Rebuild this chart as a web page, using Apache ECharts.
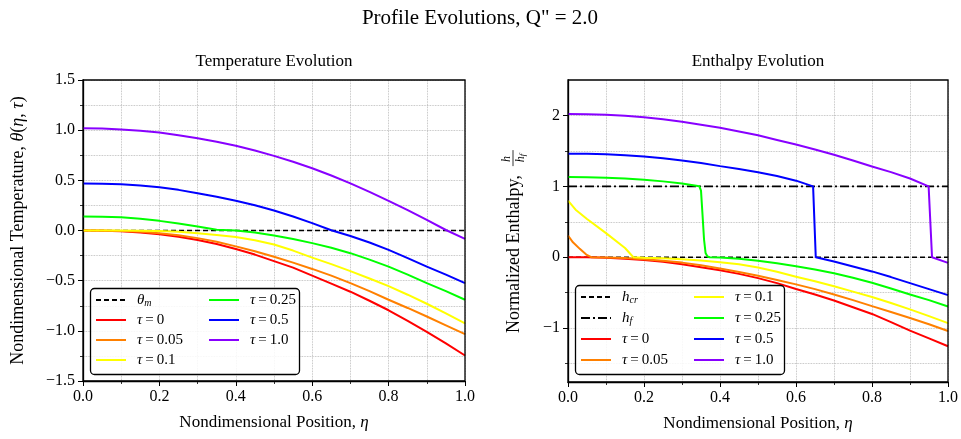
<!DOCTYPE html>
<html>
<head>
<meta charset="utf-8">
<title>Profile Evolutions</title>
<script src="https://cdn.jsdelivr.net/npm/echarts@6/dist/echarts.min.js"></script>
<style>
html, body { margin: 0; padding: 0; background: #fff; }
#main { width: 961px; height: 439px; }
</style>
</head>
<body>
<div id="main"></div>
<script>
// --- data ---

// temperature curves share one eta grid
var eta = [0, 0.05, 0.1, 0.15, 0.2, 0.25, 0.3, 0.35, 0.4, 0.45, 0.5, 0.55, 0.6, 0.65, 0.7, 0.75, 0.8, 0.85, 0.9, 0.95, 1.0];
var thetaTau0   = [0, -0.002, -0.007, -0.02, -0.037, -0.062, -0.095, -0.135, -0.185, -0.24, -0.305, -0.37, -0.45, -0.53, -0.61, -0.70, -0.795, -0.9, -1.01, -1.125, -1.246];
var thetaTau005 = [0, 0, -0.004, -0.012, -0.027, -0.048, -0.076, -0.113, -0.158, -0.207, -0.262, -0.32, -0.383, -0.45, -0.525, -0.605, -0.69, -0.772, -0.857, -0.945, -1.033];
var thetaTau01  = [0, 0, 0, -0.002, -0.006, -0.013, -0.028, -0.045, -0.065, -0.098, -0.14, -0.2, -0.27, -0.335, -0.405, -0.478, -0.555, -0.64, -0.73, -0.825, -0.925];
var thetaTau025 = [0.14, 0.138, 0.133, 0.117, 0.096, 0.07, 0.04, 0.008, 0, -0.02, -0.05, -0.085, -0.126, -0.172, -0.226, -0.29, -0.36, -0.44, -0.525, -0.605, -0.69];
var thetaTau05  = [0.468, 0.466, 0.46, 0.448, 0.432, 0.405, 0.372, 0.336, 0.296, 0.252, 0.2, 0.14, 0.073, 0.002, -0.055, -0.12, -0.193, -0.275, -0.36, -0.44, -0.525];
var thetaTau1   = [1.02, 1.017, 1.007, 0.995, 0.977, 0.95, 0.92, 0.885, 0.844, 0.797, 0.744, 0.685, 0.62, 0.548, 0.47, 0.385, 0.296, 0.203, 0.106, 0.005, -0.083];

// reference lines
var etaRef = [0, 1];
var thetaM = [0, 0];
var hCr = [0, 0];
var hF = [1, 1];

// enthalpy curves (own eta points, to keep the jumps sharp)
var hTau0 = [0, -0.002, -0.007, -0.02, -0.038, -0.065, -0.1, -0.14, -0.185, -0.235, -0.295, -0.365, -0.447, -0.525, -0.61, -0.705, -0.8, -0.915, -1.035, -1.145, -1.256];

var etaH005 = [0, 0.013, 0.031, 0.048, 0.061, 0.1, 0.15, 0.2, 0.25, 0.3, 0.35, 0.4, 0.45, 0.5, 0.55, 0.6, 0.65, 0.7, 0.75, 0.8, 0.85, 0.9, 0.95, 1.0];
var hTau005 = [0.306, 0.21, 0.118, 0.038, 0, -0.004, -0.012, -0.027, -0.048, -0.076, -0.113, -0.158, -0.207, -0.262, -0.32, -0.383, -0.45, -0.525, -0.605, -0.69, -0.772, -0.857, -0.945, -1.04];

var etaH01 = [0, 0.02, 0.05, 0.1, 0.15, 0.172, 0.2, 0.25, 0.3, 0.35, 0.4, 0.45, 0.5, 0.55, 0.6, 0.65, 0.7, 0.75, 0.8, 0.85, 0.9, 0.95, 1.0];
var hTau01 = [0.8, 0.67, 0.54, 0.34, 0.13, 0, -0.006, -0.013, -0.03, -0.047, -0.07, -0.1, -0.145, -0.205, -0.275, -0.34, -0.41, -0.485, -0.56, -0.645, -0.735, -0.83, -0.93];

var etaH025 = [0, 0.05, 0.1, 0.15, 0.2, 0.25, 0.3, 0.3457, 0.35, 0.354, 0.358, 0.362, 0.367, 0.373, 0.4, 0.45, 0.5, 0.55, 0.6, 0.65, 0.7, 0.75, 0.8, 0.85, 0.9, 0.95, 1.0];
var hTau025 = [1.13, 1.128, 1.122, 1.11, 1.093, 1.07, 1.04, 1.0, 0.94, 0.6, 0.25, 0.06, 0.01, 0, -0.004, -0.022, -0.05, -0.085, -0.126, -0.172, -0.226, -0.29, -0.36, -0.44, -0.525, -0.605, -0.695];

var etaH05 = [0, 0.05, 0.1, 0.15, 0.2, 0.25, 0.3, 0.35, 0.4, 0.45, 0.5, 0.55, 0.6, 0.645, 0.652, 0.7, 0.75, 0.8, 0.85, 0.9, 0.95, 1.0];
var hTau05 = [1.46, 1.458, 1.452, 1.44, 1.42, 1.396, 1.365, 1.328, 1.285, 1.245, 1.2, 1.145, 1.08, 1.0, 0, -0.06, -0.13, -0.2, -0.28, -0.365, -0.45, -0.535];

var etaH1 = [0, 0.05, 0.1, 0.15, 0.2, 0.25, 0.3, 0.35, 0.4, 0.45, 0.5, 0.55, 0.6, 0.65, 0.7, 0.75, 0.8, 0.85, 0.9, 0.949, 0.958, 1.0];
var hTau1 = [2.02, 2.017, 2.01, 1.995, 1.975, 1.945, 1.91, 1.87, 1.826, 1.775, 1.72, 1.655, 1.59, 1.52, 1.445, 1.365, 1.28, 1.2, 1.11, 1.0, 0, -0.08];

// tick values of the enthalpy axis
var yTicksEnthMajor = [-1, 0, 1, 2];
var yTicksEnthMinor = [-1.5, -0.5, 0.5, 1.5];

var tauColors = ['#ff0000', '#ff8000', '#ffff00', '#00ff00', '#0000ff', '#8800ff'];
var tauNames = ['τ = 0', 'τ = 0.05', 'τ = 0.1', 'τ = 0.25', 'τ = 0.5', 'τ = 1.0'];

// --- chart ---
var FONT = "'Liberation Serif', 'DejaVu Serif', serif";
var gridLine = { color: '#b0b0b0', type: 'dotted', width: 0.8 };

function pairs(xs, ys) {
    return xs.map(function (x, i) { return [x, ys[i]]; });
}

function num(v) {
    return (v < 0 ? '\u2212' : '') + Math.abs(v).toFixed(1);
}

var richMath = {
    i: { fontFamily: FONT, fontStyle: 'italic', fontSize: 15, lineHeight: 16 },
    s: { fontFamily: FONT, fontStyle: 'italic', fontSize: 10, lineHeight: 16, verticalAlign: 'bottom', padding: [5, 0, 0, 0] }
};

function legendLabel(name) {
    if (name === 'θm') return '{i|θ}{s|m}';
    if (name === 'hcr') return '{i|h}{s|cr}';
    if (name === 'hf') return '{i|h}{s|f}';
    return '{i|τ}\u2009=\u2009' + name.split('= ')[1];
}

function lineSeries(name, xs, ys, color, xi, yi, style) {
    return {
        name: name,
        type: 'line',
        xAxisIndex: xi,
        yAxisIndex: yi,
        data: pairs(xs, ys),
        showSymbol: false,
        symbol: 'none',
        smooth: false,
        animation: false,
        silent: true,
        lineStyle: Object.assign({ color: color, width: 2 }, style || {}),
        itemStyle: { color: color }
    };
}

function xAxisDef(gi) {
    return {
        type: 'value', gridIndex: gi, min: 0, max: 1, interval: 0.2,
        axisLine: { show: true, onZero: false, lineStyle: { color: '#000', width: 1.3 } },
        axisTick: { show: true, length: 5, lineStyle: { color: '#000', width: 1 } },
        minorTick: { show: true, splitNumber: 2, length: 3, lineStyle: { color: '#000', width: 0.8 } },
        splitLine: { show: true, lineStyle: gridLine },
        minorSplitLine: { show: true, lineStyle: gridLine },
        axisLabel: { formatter: num, fontFamily: FONT, fontSize: 16, color: '#000', margin: 8 },
        name: 'Nondimensional Position, {i|η}',
        nameLocation: 'middle', nameGap: 33,
        nameTextStyle: { fontFamily: FONT, fontSize: 17, color: '#000',
            rich: { i: { fontFamily: FONT, fontStyle: 'italic', fontSize: 17 } } }
    };
}

var legendText = { fontFamily: FONT, fontSize: 15, color: '#000', lineHeight: 16, padding: [0, 0, 0, 6], rich: richMath };

function legendDef(names, left, top, gap) {
    return {
        orient: 'vertical', left: left, top: top, padding: 0,
        itemWidth: 30, itemHeight: 10, itemGap: gap,
        selectedMode: false, data: names, z: 6,
        itemStyle: { opacity: 0 },
        textStyle: legendText, formatter: legendLabel
    };
}

var series = [lineSeries('θm', etaRef, thetaM, '#000', 0, 0, { type: [5, 3], width: 1.6 })];
var thetaSets = [thetaTau0, thetaTau005, thetaTau01, thetaTau025, thetaTau05, thetaTau1];
thetaSets.forEach(function (ys, k) {
    series.push(lineSeries(tauNames[k], eta, ys, tauColors[k], 0, 0));
});
series.push(lineSeries('hcr', etaRef, hCr, '#000', 1, 1, { type: [5, 3], width: 1.6 }));
series.push(lineSeries('hf', etaRef, hF, '#000', 1, 1, { type: [9, 3, 2, 3], width: 1.6 }));
var hX = [eta, etaH005, etaH01, etaH025, etaH05, etaH1];
var hY = [hTau0, hTau005, hTau01, hTau025, hTau05, hTau1];
hY.forEach(function (ys, k) {
    series.push(lineSeries(tauNames[k], hX[k], ys, tauColors[k], 1, 1));
});

// y label of the enthalpy plot: text followed by a small h / h_f fraction
var enthFont = '18px ' + FONT;
var enthText = 'Normalized Enthalpy,';
var enthW = new echarts.graphic.Text({ style: { text: enthText, font: enthFont } }).getBoundingRect().width;
var fracX = enthW + 17;
var enthLen = fracX + 9;
var enthLabel = {
    type: 'group', x: 514, y: 241 + enthLen / 2, rotation: Math.PI / 2,
    children: [
        { type: 'text', x: 0, y: 0, style: { text: enthText, font: enthFont, fill: '#000', textAlign: 'left', textVerticalAlign: 'middle' } },
        { type: 'text', x: fracX - 1, y: -1.5, style: { text: 'h', font: 'italic 12px ' + FONT, fill: '#000', textAlign: 'center', textVerticalAlign: 'bottom' } },
        { type: 'line', shape: { x1: fracX - 8, y1: -1, x2: fracX + 8, y2: -1 }, style: { stroke: '#000', lineWidth: 0.8 } },
        { type: 'text', x: fracX, y: 0, style: { text: '{a|h}{b|f}', fill: '#000', textAlign: 'center', textVerticalAlign: 'top',
            rich: { a: { font: 'italic 12px ' + FONT }, b: { font: 'italic 9px ' + FONT, verticalAlign: 'bottom', padding: [4, 0, 0, 0] } } } }
    ]
};

var option = {
    animation: false,
    backgroundColor: '#fff',
    grid: [
        { left: 83, top: 80, width: 382, height: 301, show: true, borderColor: '#000', borderWidth: 1.3, backgroundColor: 'transparent', z: 5 },
        { left: 568, top: 80, width: 381, height: 302, show: true, borderColor: '#000', borderWidth: 1.3, backgroundColor: 'transparent', z: 5 }
    ],
    xAxis: [xAxisDef(0), xAxisDef(1)],
    yAxis: [
        {
            type: 'value', gridIndex: 0, min: -1.5, max: 1.5, interval: 0.5, position: 'left',
            axisLine: { show: true, onZero: false, lineStyle: { color: '#000', width: 1.3 } },
            axisTick: { show: true, length: 5, lineStyle: { color: '#000', width: 1 } },
            minorTick: { show: true, splitNumber: 2, length: 3, lineStyle: { color: '#000', width: 0.8 } },
            splitLine: { show: true, lineStyle: gridLine },
            minorSplitLine: { show: true, lineStyle: gridLine },
            axisLabel: { formatter: num, fontFamily: FONT, fontSize: 16, color: '#000', margin: 8 },
            name: 'Nondimensional Temperature, {i|θ}({i|η}, {i|τ})',
            nameLocation: 'middle', nameGap: 56,
            nameTextStyle: { fontFamily: FONT, fontSize: 18, color: '#000',
                rich: { i: { fontFamily: FONT, fontStyle: 'italic', fontSize: 18 } } }
        },
        {
            // minor ticks + half-step grid lines of the enthalpy plot
            type: 'value', gridIndex: 1, min: -1.76, max: 2.5, position: 'left',
            axisLine: { show: true, onZero: false, lineStyle: { color: '#000', width: 1.3 } },
            axisTick: { show: true, length: 3, customValues: yTicksEnthMinor, lineStyle: { color: '#000', width: 0.8 } },
            splitLine: { show: true, lineStyle: gridLine },
            axisLabel: { show: false }
        },
        {
            // major ticks + labels of the enthalpy plot
            type: 'value', gridIndex: 1, min: -1.76, max: 2.5, position: 'left',
            axisLine: { show: false, onZero: false },
            axisTick: { show: true, length: 5, customValues: yTicksEnthMajor, lineStyle: { color: '#000', width: 1 } },
            splitLine: { show: true, lineStyle: gridLine },
            axisLabel: { customValues: yTicksEnthMajor, fontFamily: FONT, fontSize: 16, color: '#000', margin: 8,
                formatter: function (v) { return (v < 0 ? '\u2212' : '') + Math.abs(v); } }
        }
    ],
    legend: [
        legendDef(['θm', 'τ = 0', 'τ = 0.05', 'τ = 0.1'], 95, 292, 4),
        legendDef(['τ = 0.25', 'τ = 0.5', 'τ = 1.0'], 208, 292, 4),
        legendDef(['hcr', 'hf', 'τ = 0', 'τ = 0.05'], 580, 289, 5),
        legendDef(['τ = 0.1', 'τ = 0.25', 'τ = 0.5', 'τ = 1.0'], 693, 289, 5)
    ],
    graphic: [
        { type: 'text', x: 480, y: 18, style: { text: 'Profile Evolutions, Q" = 2.0', font: '21px ' + FONT, fill: '#000', textAlign: 'center', textVerticalAlign: 'middle' } },
        { type: 'text', x: 274, y: 62, style: { text: 'Temperature Evolution', font: '17px ' + FONT, fill: '#000', textAlign: 'center', textVerticalAlign: 'middle' } },
        { type: 'text', x: 758, y: 62, style: { text: 'Enthalpy Evolution', font: '17px ' + FONT, fill: '#000', textAlign: 'center', textVerticalAlign: 'middle' } },
        // legend frames
        { type: 'rect', z: 4, shape: { x: 90.5, y: 288.5, width: 209, height: 86, r: 4 }, style: { fill: 'rgba(255,255,255,0.85)', stroke: '#000', lineWidth: 1.3 } },
        { type: 'rect', z: 4, shape: { x: 575.5, y: 285.5, width: 209, height: 89, r: 4 }, style: { fill: 'rgba(255,255,255,0.85)', stroke: '#000', lineWidth: 1.3 } },
        enthLabel
    ],
    series: series
};

var chart = echarts.init(document.getElementById('main'), null, { renderer: 'canvas' });
chart.setOption(option);
</script>
</body>
</html>
